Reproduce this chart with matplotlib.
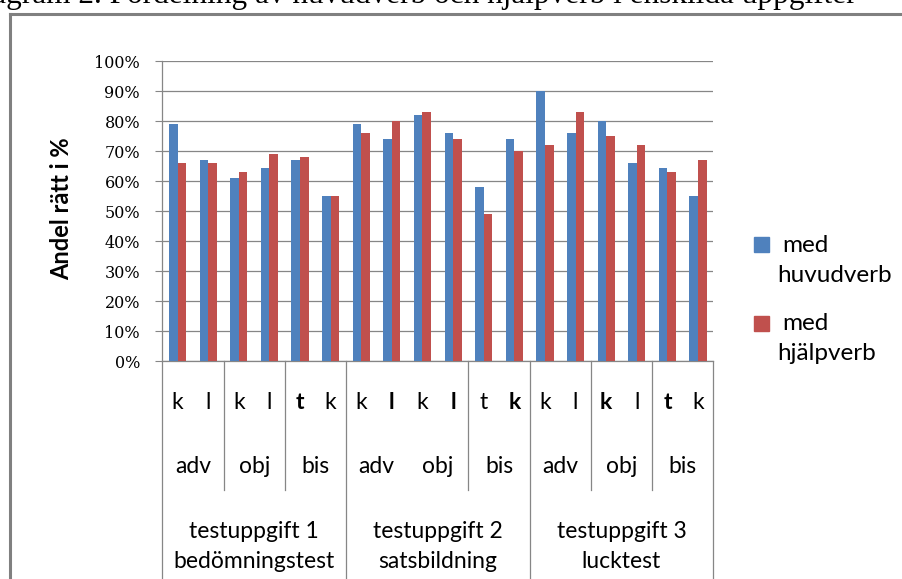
import matplotlib
matplotlib.use("Agg")
import matplotlib.pyplot as plt
from matplotlib.lines import Line2D
from matplotlib.patches import Rectangle
import matplotlib.transforms as mtransforms

# ---- data ----
level1 = ['k', 'l', 'k', 'l', 't', 'k',
          'k', 'l', 'k', 'l', 't', 'k',
          'k', 'l', 'k', 'l', 't', 'k']
level2 = ['adv', 'obj', 'bis', 'adv', 'obj', 'bis', 'adv', 'obj', 'bis']
level3_top = ['testuppgift 1', 'testuppgift 2', 'testuppgift 3']
level3_bottom = ['bedömningstest', 'satsbildning', 'lucktest']
huvudverb = [79, 67, 61, 64.5, 67, 55,
             79, 74, 82, 76, 58, 74,
             90, 76, 80, 66, 64.5, 55]
hjalpverb = [66, 66, 63, 69, 68, 55,
             76, 80, 83, 74, 49, 70,
             72, 83, 75, 72, 63, 67]
series_names = ['med\nhuvudverb', 'med\nhjälpverb']
yticks = [0, 10, 20, 30, 40, 50, 60, 70, 80, 90, 100]
ylabel = 'Andel rätt i %'
title = 'Diagram 2. Fördelning av huvudverb och hjälpverb i enskilda uppgifter'

bold_l1 = {4, 7, 9, 11, 14, 16}
sep_level2 = [1.5, 3.5, 9.5, 13.5, 15.5]
sep_level3 = [-0.5, 5.5, 11.5, 17.5]

BLUE = '#4F81BD'
RED = '#C0504D'
GRID = '#868686'
SANS = ['Lato', 'DejaVu Sans']

W, H = 903, 579
fig = plt.figure(figsize=(W / 100, H / 100), dpi=100)

# axes geometry in pixels
left, right, top, bottom = 162.3, 713.3, 61.3, 361.3
ax = fig.add_axes([left / W, 1 - bottom / H, (right - left) / W, (bottom - top) / H])

n = len(level1)
x = list(range(n))
bw = 0.28
ax.bar([i - bw / 2 for i in x], huvudverb, width=bw, color=BLUE, zorder=3, linewidth=0)
ax.bar([i + bw / 2 for i in x], hjalpverb, width=bw, color=RED, zorder=3, linewidth=0)

ax.set_xlim(-0.5, n - 0.5)
ax.set_ylim(0, 100)
ax.set_yticks(yticks)
ax.set_yticklabels([f'{v}%' for v in yticks], fontfamily='DejaVu Serif', fontsize=11.5)
ax.tick_params(axis='y', direction='out', length=5, width=0.8, color=GRID, pad=11)
ax.set_xticks([])
ax.grid(axis='y', color=GRID, linewidth=0.9, zorder=0)
ax.set_axisbelow(True)
for s in ['top', 'right']:
    ax.spines[s].set_visible(False)
for s in ['left', 'bottom']:
    ax.spines[s].set_color(GRID)
    ax.spines[s].set_linewidth(0.9)

# y label
fig.text(62 / W, 1 - 209 / H, ylabel, rotation=90, ha='center', va='center',
         fontfamily=SANS, fontweight='bold', fontsize=17)

# multi-level x axis
trans = mtransforms.blended_transform_factory(ax.transData, ax.transAxes)
def ay(py):
    return (bottom - py) / (bottom - top)

for xs in sep_level2:
    ax.add_line(Line2D([xs, xs], [0, ay(490)], transform=trans, color=GRID,
                       linewidth=0.9, clip_on=False))
for xs in sep_level3:
    ax.add_line(Line2D([xs, xs], [0, ay(600)], transform=trans, color=GRID,
                       linewidth=0.9, clip_on=False))

FS = 16.5
for i, lab in enumerate(level1):
    ax.text(i, ay(403), lab, transform=trans, ha='center', va='center',
            fontfamily=SANS, fontsize=FS,
            fontweight='bold' if i in bold_l1 else 'normal')
for j, lab in enumerate(level2):
    ax.text(2 * j + 0.5, ay(467), lab, transform=trans, ha='center', va='center',
            fontfamily=SANS, fontsize=FS)
for k in range(3):
    ax.text(6 * k + 2.5, ay(532), level3_top[k], transform=trans, ha='center', va='center',
            fontfamily=SANS, fontsize=FS)
    ax.text(6 * k + 2.5, ay(562), level3_bottom[k], transform=trans, ha='center', va='center',
            fontfamily=SANS, fontsize=FS)

# legend (drawn manually)
for (sq_y, name, col) in [(237, series_names[0], BLUE), (316, series_names[1], RED)]:
    fig.patches.append(Rectangle((754 / W, 1 - (sq_y + 15) / H), 15 / W, 15 / H,
                                 transform=fig.transFigure, color=col))
    l1, l2 = name.split('\n')
    fig.text(782 / W, 1 - (sq_y + 8) / H, l1, ha='left', va='center',
             fontfamily=SANS, fontsize=17.5)
    fig.text(777 / W, 1 - (sq_y + 38) / H, l2, ha='left', va='center',
             fontfamily=SANS, fontsize=17.5)

# outer chart border (partially visible)
fig.add_artist(Line2D([10 / W, 10 / W], [0, 1 - 13.5 / H], transform=fig.transFigure,
                      color='#808080', linewidth=2.2))
fig.add_artist(Line2D([10 / W, 1], [1 - 13.5 / H, 1 - 13.5 / H], transform=fig.transFigure,
                      color='#808080', linewidth=2.2))

# title, cut off at the top
fig.text(857 / W, 1 - 3 / H, title, ha='right', va='baseline',
         fontfamily='Liberation Serif', fontsize=22.5)

fig.savefig('out.png', dpi=100)
